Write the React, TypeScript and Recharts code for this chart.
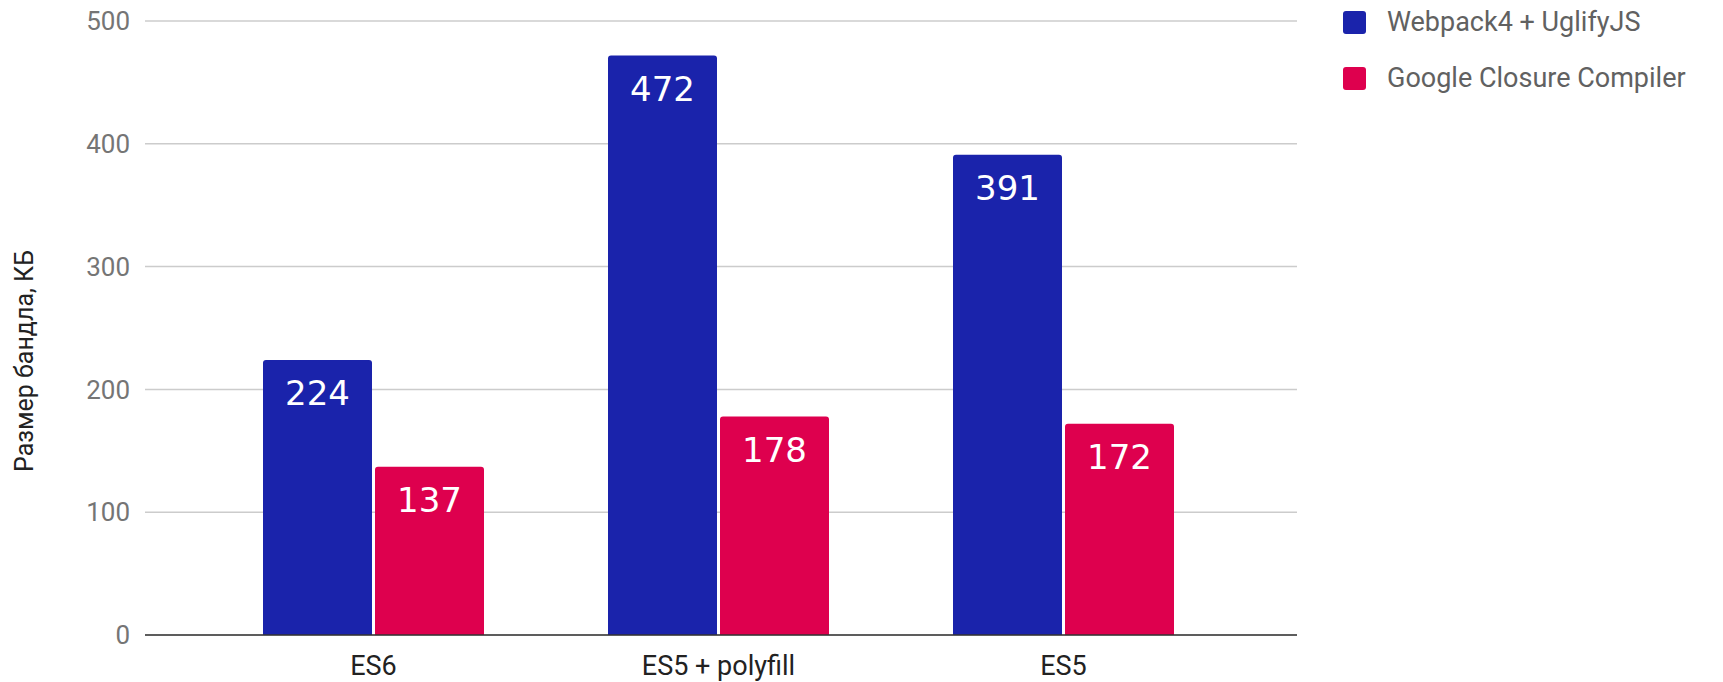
import React from 'react';
import {Bar, BarChart, CartesianGrid, LabelList, XAxis, YAxis} from 'recharts';

const categories = ['ES6', 'ES5 + polyfill', 'ES5'];
const webpackValues = [224, 472, 391];
const closureValues = [137, 178, 172];
const yTicks = [0, 100, 200, 300, 400, 500];
const seriesNames = ['Webpack4 + UglifyJS', 'Google Closure Compiler'];
const seriesColors = ['#1a23ab', '#de004e'];
const yTitle = 'Размер бандла, КБ';

const data = categories.map((name, i) => ({
    name,
    webpack: webpackValues[i],
    closure: closureValues[i],
}));

const YTitle = (props: any) => {
    const vb = props.viewBox || {x: 0, y: 0, width: 0, height: 0};
    const cx = vb.x + 24;
    const cy = vb.y + vb.height / 2 + 33;
    return (
        <text
            x={cx}
            y={cy}
            transform={`rotate(-90, ${cx}, ${cy})`}
            textAnchor="middle"
            dominantBaseline="central"
            fontSize={25}
            fontFamily="Roboto"
            fill="#222222"
        >
            {yTitle}
        </text>
    );
};

function App(): React.ReactElement {
    return (
        <div style={{position: 'absolute', left: 0, top: 0, width: 1723, height: 682, background: '#fff'}}>
            <BarChart
                width={1723}
                height={682}
                data={data}
                margin={{top: 21, right: 426, bottom: 0, left: 0}}
                barGap={3}
                barCategoryGap={62}
            >
                <CartesianGrid horizontal={true} vertical={false} stroke="#cccccc" strokeWidth={1.5}/>
                <XAxis
                    dataKey="name"
                    height={47}
                    padding={{left: 56, right: 61}}
                    tickLine={false}
                    tickSize={0}
                    tickMargin={21}
                    axisLine={{stroke: '#333333', strokeWidth: 1.5}}
                    tick={{fontSize: 27, fontFamily: 'Roboto', fill: '#222222'}}
                    interval={0}
                />
                <YAxis
                    width={145}
                    domain={[0, 500]}
                    ticks={yTicks}
                    tickLine={false}
                    tickSize={0}
                    tickMargin={15}
                    axisLine={false}
                    tick={{fontSize: 26, fontFamily: 'Roboto', fill: '#757575'}}
                    label={<YTitle/>}
                />
                <Bar dataKey="webpack" fill={seriesColors[0]} radius={[3, 3, 0, 0]} isAnimationActive={false}>
                    <LabelList dataKey="webpack" position="insideTop" offset={21} fill="#ffffff"
                               fontSize={34} fontFamily="DejaVu Sans"/>
                </Bar>
                <Bar dataKey="closure" fill={seriesColors[1]} radius={[3, 3, 0, 0]} isAnimationActive={false}>
                    <LabelList dataKey="closure" position="insideTop" offset={21} fill="#ffffff"
                               fontSize={34} fontFamily="DejaVu Sans"/>
                </Bar>
            </BarChart>
            <div style={{position: 'absolute', left: 1343, top: 10, fontFamily: 'Roboto'}}>
                {seriesNames.map((name, i) => (
                    <div key={name} style={{display: 'flex', alignItems: 'center', height: 24, marginBottom: 32}}>
                        <span style={{
                            width: 23,
                            height: 23,
                            borderRadius: 3,
                            backgroundColor: seriesColors[i],
                            display: 'inline-block',
                        }}></span>
                        <span style={{marginLeft: 21, fontSize: 27, color: '#616161', whiteSpace: 'nowrap'}}>{name}</span>
                    </div>
                ))}
            </div>
        </div>
    );
}

export default App;
